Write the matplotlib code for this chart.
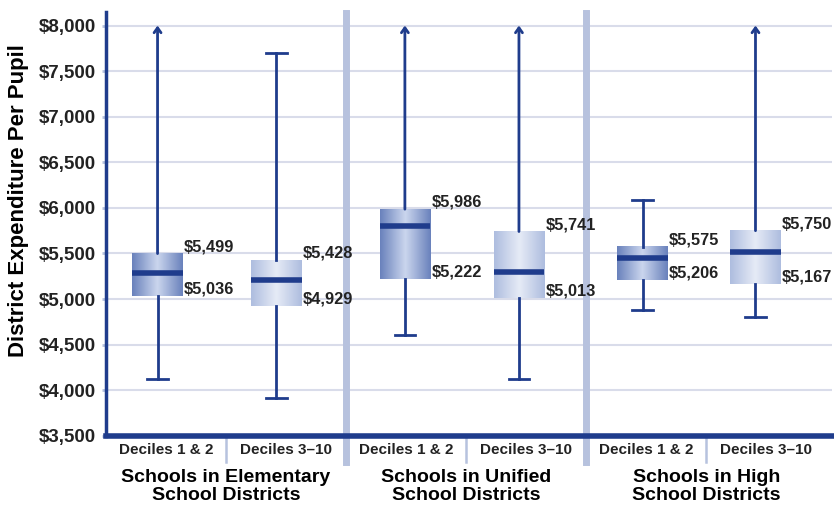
import matplotlib.pyplot as plt
import numpy as np
from matplotlib.colors import LinearSegmentedColormap

# box statistics per decile group
groups = ["Schools in Elementary\nSchool Districts",
          "Schools in Unified\nSchool Districts",
          "Schools in High\nSchool Districts"]
box_labels = ["Deciles 1 & 2", "Deciles 3\u201310"] * 3
q1 = [5036, 4929, 5222, 5013, 5206, 5167]
q3 = [5499, 5428, 5986, 5741, 5575, 5750]
medians = [5290, 5210, 5800, 5300, 5450, 5520]
lows = [4120, 3920, 4610, 4120, 4880, 4800]
highs = [8000, 7700, 8000, 8000, 6090, 8000]
# whisker tops that run off the scale get an arrow
open_top = [True, False, True, True, False, True]

DARK = "#1f3c8c"
GRID = "#d9dcea"
SEP = "#b7c2de"
TEXT = "#222222"
plt.rcParams["font.family"] = ["Liberation Sans", "DejaVu Sans"]

dark_cmap = LinearSegmentedColormap.from_list("d", ["#6a82bc", "#cbd6ee", "#6a82bc"])
light_cmap = LinearSegmentedColormap.from_list("l", ["#aebddf", "#e6ebf6", "#aebddf"])

fig = plt.figure(figsize=(8.34, 5.14), dpi=100)
ax = fig.add_axes([0.127, 0.152, 0.871, 0.825])
ax.set_xlim(0, 6.05)
ax.set_ylim(3500, 8150)

# slightly off-centre box positions inside each slot
positions = [0.43, 1.42, 2.49, 3.44, 4.47, 5.41]
bw = 0.42
cw = 0.17

yt = np.arange(3500, 8001, 500)
for y in yt[1:]:
    ax.axhline(y, color=GRID, lw=1.5, zorder=0)

grad = np.linspace(0, 1, 64).reshape(1, -1)
for i, x in enumerate(positions):
    cmap = dark_cmap if i % 2 == 0 else light_cmap
    ax.imshow(grad, cmap=cmap, aspect="auto", zorder=2,
              extent=[x - bw / 2, x + bw / 2, q1[i], q3[i]])
    ax.plot([x - bw / 2, x + bw / 2], [medians[i]] * 2, color=DARK, lw=4, zorder=3,
            solid_capstyle="butt")
    # whiskers
    ax.plot([x, x], [lows[i], q1[i]], color=DARK, lw=2, zorder=3)
    ax.plot([x - cw / 2, x + cw / 2], [lows[i]] * 2, color=DARK, lw=2, zorder=3)
    if open_top[i]:
        ax.annotate("", xy=(x, highs[i]), xytext=(x, q3[i]), zorder=3,
                    arrowprops=dict(arrowstyle="->,head_length=0.35,head_width=0.25",
                                    color=DARK, lw=2, shrinkA=0, shrinkB=0))
    else:
        ax.plot([x, x], [q3[i], highs[i]], color=DARK, lw=2, zorder=3)
        ax.plot([x - cw / 2, x + cw / 2], [highs[i]] * 2, color=DARK, lw=2, zorder=3)
    # value labels
    ax.annotate(f"${q3[i]:,}", (x + bw / 2, q3[i]), xytext=(1, 5), textcoords="offset points",
                va="center", ha="left", fontsize=11.8, fontweight="bold", color=TEXT, zorder=4)
    ax.annotate(f"${q1[i]:,}", (x + bw / 2, q1[i]), xytext=(1, 5), textcoords="offset points",
                va="center", ha="left", fontsize=11.8, fontweight="bold", color=TEXT, zorder=4)

# separators between groups and inside groups
for s in [2, 4]:
    ax.plot([s, s], [8140, 3500], color=SEP, lw=5, zorder=1, clip_on=False)
    ax.plot([s, s], [3500, 3210], color=SEP, lw=5, zorder=1, clip_on=False)
for s in [1, 3, 5]:
    ax.plot([s, s], [3500, 3210], color=SEP, lw=1.8, zorder=1, clip_on=False)

for i in range(6):
    ax.text(i + 0.5, 3350, box_labels[i], ha="center", va="center", fontsize=11,
            fontweight="bold", color=TEXT)
for g, name in enumerate(groups):
    ax.text(2 * g + 1, 2945, name, ha="center", va="center", fontsize=14,
            fontweight="bold", color="black", linespacing=1.15)

ax.set_yticks(yt)
ax.set_yticklabels([f"${v:,}" for v in yt], fontsize=13.5, fontweight="bold", color=TEXT)
ax.set_xticks([])
ax.tick_params(axis="y", length=3, width=2, color=SEP, pad=4)
ax.set_ylabel("District Expenditure Per Pupil", fontsize=16, fontweight="bold",
              color="black")
ax.yaxis.set_label_coords(-0.106, 0.555)

for side in ["top", "right"]:
    ax.spines[side].set_visible(False)
ax.spines["left"].set_color(DARK)
ax.spines["left"].set_linewidth(2.5)
ax.spines["bottom"].set_color(DARK)
ax.spines["bottom"].set_linewidth(4)
ax.spines["bottom"].set_zorder(5)

fig.savefig("out.png", dpi=100)
